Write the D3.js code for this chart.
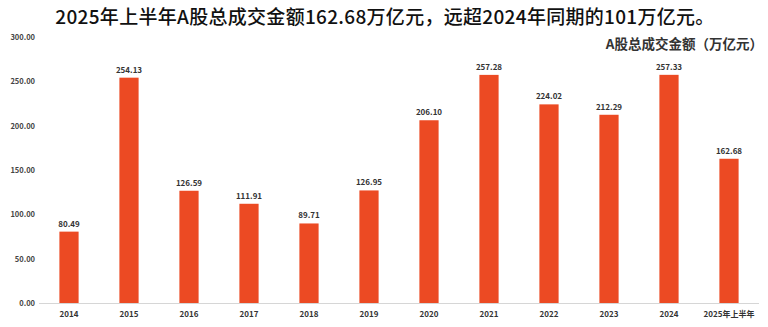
<!DOCTYPE html>
<html>
<head>
<meta charset="utf-8">
<script src="https://cdn.jsdelivr.net/npm/d3@7"></script>
<style>
  html, body { margin: 0; padding: 0; background: #fff; }
  svg { display: block; }
</style>
</head>
<body>
<svg id="chart" width="768" height="327"></svg>
<script>
// A股年度总成交金额（万亿元）
const categories = ["2014", "2015", "2016", "2017", "2018", "2019", "2020", "2021", "2022", "2023", "2024", "2025年上半年"];
const turnover = [80.49, 254.13, 126.59, 111.91, 89.71, 126.95, 206.10, 257.28, 224.02, 212.29, 257.33, 162.68];
const yTicks = [0, 50, 100, 150, 200, 250, 300];
const titleText = "2025年上半年A股总成交金额162.68万亿元，远超2024年同期的101万亿元。";
const seriesName = "A股总成交金额（万亿元）";

const svg = d3.select("#chart");
const font = "'Noto Sans CJK SC', 'Noto Sans', sans-serif";

const x = d3.scaleBand().domain(categories).range([39, 759]).paddingInner(0.68).paddingOuter(0.34);
const y = d3.scaleLinear().domain([0, 300]).range([303, 37]);

// Title
svg.append("text")
  .attr("x", 385).attr("y", 24)
  .attr("text-anchor", "middle")
  .style("font-family", font).style("font-size", "19px").style("font-weight", 500)
  .style("letter-spacing", "0.3px")
  .attr("fill", "#111")
  .text(titleText);

// Series name
svg.append("text")
  .attr("x", 763).attr("y", 49)
  .attr("text-anchor", "end")
  .style("font-family", font).style("font-size", "13.5px").style("font-weight", 700)
  .attr("fill", "#333")
  .text(seriesName);

// Y axis labels
const yAxis = d3.axisLeft(y).tickValues(yTicks).tickFormat(d3.format(".2f")).tickSize(0).tickPadding(0);
const yg = svg.append("g").attr("transform", "translate(35,0)").call(yAxis);
yg.select(".domain").remove();
yg.selectAll("text")
  .style("font-family", font).style("font-size", "7.5px").style("font-weight", 700)
  .attr("fill", "#444");

// X axis
const xAxis = d3.axisBottom(x).tickSize(0).tickPadding(8);
const xg = svg.append("g").attr("transform", `translate(0,${y(0)})`).call(xAxis);
xg.select(".domain").attr("stroke", "#d6d6d6").attr("d", `M39,0.5H759`);
xg.selectAll("text")
  .style("font-family", font).style("font-size", "8px").style("font-weight", 700)
  .attr("fill", "#333");

// Bars
svg.append("g").selectAll("rect")
  .data(categories)
  .join("rect")
  .attr("x", d => x(d))
  .attr("width", x.bandwidth())
  .attr("y", (d, i) => y(turnover[i]))
  .attr("height", (d, i) => y(0) - y(turnover[i]))
  .attr("fill", "#EC4A23");

// Value labels
svg.append("g").selectAll("text")
  .data(categories)
  .join("text")
  .attr("x", d => x(d) + x.bandwidth() / 2)
  .attr("y", (d, i) => y(turnover[i]) - 5)
  .attr("text-anchor", "middle")
  .style("font-family", font).style("font-size", "8px").style("font-weight", 700)
  .attr("fill", "#333")
  .text((d, i) => turnover[i].toFixed(2));
</script>
</body>
</html>
